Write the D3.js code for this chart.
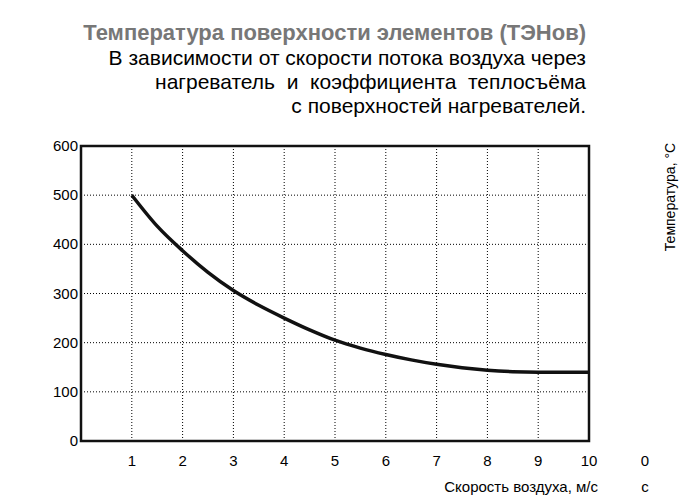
<!DOCTYPE html><html><head><meta charset="utf-8">
<script src="https://d3js.org/d3.v7.min.js"></script>
<style>body{margin:0;background:#fff}text{font-family:"Liberation Sans",Arial,sans-serif}</style></head><body>
<script>
const speeds=[1,1.5,2,2.5,3,3.5,4,4.5,5,5.5,6,6.5,7,7.5,8,8.5,9,9.5,10];
const temps=[500,437,387,343,306,276,250,226,205,189,176,165,156,149,144,141,140,140,140];
const xTicks=[0,1,2,3,4,5,6,7,8,9,10];
const yTicks=[0,100,200,300,400,500,600];
const W=689,H=503;
const svg=d3.select("body").append("svg").attr("width",W).attr("height",H);
const x=d3.scaleLinear().domain([0,10]).range([81,589]);
const y=d3.scaleLinear().domain([0,600]).range([441,146]);
const g=svg.append("g");
g.selectAll(".vg").data(xTicks.slice(1,-1)).join("line").attr("x1",d=>x(d)).attr("x2",d=>x(d)).attr("y1",y(0)).attr("y2",y(600)).attr("stroke","#000").attr("stroke-width",1).attr("stroke-dasharray","1,2");
g.selectAll(".hg").data(yTicks.slice(1,-1)).join("line").attr("y1",d=>y(d)).attr("y2",d=>y(d)).attr("x1",x(0)).attr("x2",x(10)).attr("stroke","#000").attr("stroke-width",1).attr("stroke-dasharray","1,2");
g.append("rect").attr("x",x(0)).attr("y",y(600)).attr("width",x(10)-x(0)).attr("height",y(0)-y(600)).attr("fill","none").attr("stroke","#111").attr("stroke-width",2.5);
g.append("path").datum(speeds.map((s,i)=>[s,temps[i]])).attr("d",d3.line().x(d=>x(d[0])).y(d=>y(d[1])).curve(d3.curveMonotoneX)).attr("fill","none").attr("stroke","#111").attr("stroke-width",3.5);
g.selectAll(".yt").data(yTicks).join("text").attr("x",x(0)-3).attr("y",d=>y(d)+5).attr("text-anchor","end").attr("font-size",15).text(d=>d);
g.selectAll(".xt").data(xTicks.slice(1)).join("text").attr("x",d=>x(d)).attr("y",466).attr("text-anchor","middle").attr("font-size",15).text(d=>d);
svg.append("text").attr("x",645).attr("y",466).attr("text-anchor","middle").attr("font-size",15).text("0");
svg.append("text").attr("x",645).attr("y",492).attr("text-anchor","middle").attr("font-size",15).text("с");
svg.append("text").attr("x",598).attr("y",492).attr("text-anchor","end").attr("font-size",15).text("Скорость воздуха, м/с");
svg.append("text").attr("transform","translate(675,197) rotate(-90)").attr("text-anchor","middle").attr("font-size",14).text("Температура, °C");
svg.append("text").attr("x",586).attr("y",40).attr("text-anchor","end").attr("font-size",22).attr("font-weight","bold").attr("fill","#777").text("Температура поверхности элементов (ТЭНов)");
const sub=["В зависимости от скорости потока воздуха через","нагреватель  и  коэффициента  теплосъёма","с поверхностей нагревателей."];
svg.selectAll(".sub").data(sub).join("text").attr("x",586).attr("y",(d,i)=>65+i*24).attr("text-anchor","end").attr("font-size",21).attr("xml:space","preserve").style("white-space","pre").text(d=>d);
</script></body></html>
